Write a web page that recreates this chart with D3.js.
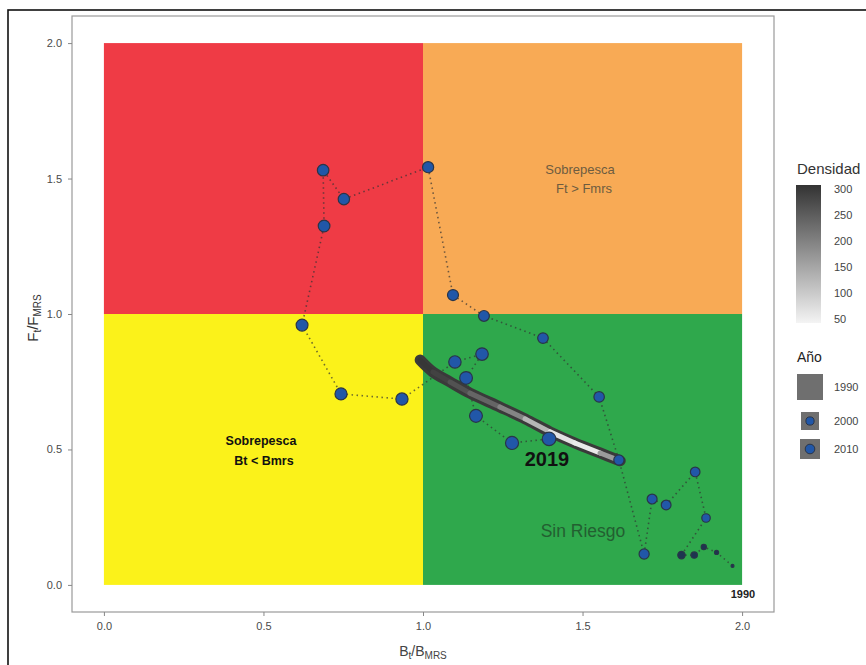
<!DOCTYPE html>
<html><head><meta charset="utf-8">
<script src="https://cdn.jsdelivr.net/npm/d3@7"></script>
<style>
body{margin:0;background:#fff}
svg{display:block}
text{font-family:"Liberation Sans",Arial,Helvetica,sans-serif}
</style>
</head><body>
<svg id="chart" width="866" height="665"></svg>
<script>
// ---- data ----
const years  = [1990,1991,1992,1993,1994,1995,1996,1997,1998,1999,
                2000,2001,2002,2003,2004,2005,2006,2007,2008,2009,
                2010,2011,2012,2013,2014,2015,2016,2019];
const bRatio = [1.97,1.92,1.88,1.85,1.81,1.887,1.853,1.762,1.718,1.693,
                1.614,1.552,1.376,1.191,1.094,1.016,0.752,0.687,0.690,0.621,
                0.743,0.934,1.100,1.185,1.135,1.166,1.279,1.395];
const fRatio = [0.07,0.12,0.14,0.11,0.11,0.247,0.417,0.295,0.317,0.114,
                0.461,0.694,0.911,0.993,1.070,1.542,1.424,1.531,1.325,0.959,
                0.705,0.686,0.823,0.852,0.764,0.624,0.524,0.539];
const bandB    = [0.991,1.031,1.085,1.147,1.241,1.320,1.398,1.476,1.555,1.618];
const bandF    = [0.830,0.786,0.749,0.708,0.657,0.613,0.565,0.524,0.487,0.458];
const bandDens = [300,290,270,250,220,170,90,55,70,260];
const xTicks = [0,0.5,1,1.5,2];
const yTicks = [0,0.5,1,1.5,2];
const xTickLabels = ["0.0","0.5","1.0","1.5","2.0"];
const yTickLabels = ["0.0","0.5","1.0","1.5","2.0"];
const zoneB0 = [0,1,0,1];
const zoneB1 = [1,2,1,2];
const zoneF0 = [1,1,0,0];
const zoneF1 = [2,2,1,1];
const zoneColors = ["#ef3b45","#f8aa55","#fbf21a","#2fa84c"];
const densTicks = [50,100,150,200,250,300];
const yearKeys = [1990,2000,2010];

// ---- setup ----
const svg = d3.select("#chart");
svg.append("rect").attr("x",8).attr("y",10).attr("width",900).attr("height",700)
  .attr("fill","none").attr("stroke","#111").attr("stroke-width",1.6);

const x = d3.scaleLinear().domain([-0.1,2.1]).range([72,774]);
const y = d3.scaleLinear().domain([-0.1,2.1]).range([612,16]);

svg.append("rect").attr("x",x(-0.1)).attr("y",y(2.1))
  .attr("width",x(2.1)-x(-0.1)).attr("height",y(-0.1)-y(2.1))
  .attr("fill","#fff");

// zones
svg.append("g").selectAll("rect").data(zoneColors).join("rect")
  .attr("x",(d,i)=>x(zoneB0[i])).attr("y",(d,i)=>y(zoneF1[i]))
  .attr("width",(d,i)=>x(zoneB1[i])-x(zoneB0[i]))
  .attr("height",(d,i)=>y(zoneF0[i])-y(zoneF1[i]))
  .attr("fill",d=>d);

// zone labels
const lab = svg.append("g");
lab.append("text").attr("x",580).attr("y",174).attr("text-anchor","middle")
  .attr("font-size",13).attr("fill","#6d5c40").text("Sobrepesca");
lab.append("text").attr("x",584).attr("y",193).attr("text-anchor","middle")
  .attr("font-size",13).attr("fill","#6d5c40").text("Ft > Fmrs");
lab.append("text").attr("x",261).attr("y",445).attr("text-anchor","middle")
  .attr("font-size",12.5).attr("font-weight","bold").attr("fill","#111").text("Sobrepesca");
lab.append("text").attr("x",264).attr("y",465).attr("text-anchor","middle")
  .attr("font-size",12.5).attr("font-weight","bold").attr("fill","#111").text("Bt < Bmrs");
lab.append("text").attr("x",583).attr("y",537).attr("text-anchor","middle")
  .attr("font-size",17.5).attr("fill","#235f31").text("Sin Riesgo");

// trajectory path
const pts = years.map((yr,i)=>({yr,b:bRatio[i],f:fRatio[i]}));
svg.append("path").datum(pts)
  .attr("d",d3.line().x(d=>x(d.b)).y(d=>y(d.f)))
  .attr("fill","none").attr("stroke","#333").attr("stroke-width",1.6)
  .attr("stroke-dasharray","1.5,3.5").attr("opacity",0.7);

// density band
const dens = d3.scaleLinear().domain([50,300]).range(["#f4f4f4","#333333"]);
const band = bandB.map((b,i)=>({b,f:bandF[i],d:bandDens[i]}));
svg.append("path").datum(band)
  .attr("d",d3.line().curve(d3.curveCatmullRom).x(d=>x(d.b)).y(d=>y(d.f)))
  .attr("fill","none").attr("stroke","#3a3a3a").attr("stroke-width",11)
  .attr("stroke-linecap","round");
const bg = svg.append("g");
for(let i=0;i<band.length-1;i++){
  const a=band[i], c=band[i+1];
  bg.append("line").attr("x1",x(a.b)).attr("y1",y(a.f)).attr("x2",x(c.b)).attr("y2",y(c.f))
    .attr("stroke",dens((a.d+c.d)/2)).attr("stroke-width",5).attr("stroke-linecap","round");
}

// points
const r = d3.scaleLinear().domain([1990,1996,2019]).range([1.5,4.8,6.8]);
svg.append("g").selectAll("circle").data(pts).join("circle")
  .attr("cx",d=>x(d.b)).attr("cy",d=>y(d.f)).attr("r",d=>r(d.yr))
  .attr("fill",d=>d.yr<1995?"#1d3550":"#2157a8")
  .attr("stroke","#2a3548").attr("stroke-width",1.2);

// year labels
svg.append("text").attr("x",547).attr("y",466)
  .attr("text-anchor","middle").attr("font-size",20).attr("font-weight","bold")
  .attr("fill","#111").text(years[years.length-1]);
svg.append("text").attr("x",743).attr("y",598)
  .attr("text-anchor","middle").attr("font-size",11).attr("font-weight","bold")
  .attr("fill","#222").text(years[0]);

// panel border
svg.append("rect").attr("x",x(-0.1)).attr("y",y(2.1))
  .attr("width",x(2.1)-x(-0.1)).attr("height",y(-0.1)-y(2.1))
  .attr("fill","none").attr("stroke","#9a9a9a").attr("stroke-width",1.2);

// axes
const xa = svg.append("g").attr("transform",`translate(0,${y(-0.1)})`)
  .call(d3.axisBottom(x).tickValues(xTicks).tickFormat((d,i)=>xTickLabels[i]).tickSize(4).tickPadding(6));
const ya = svg.append("g").attr("transform",`translate(${x(-0.1)},0)`)
  .call(d3.axisLeft(y).tickValues(yTicks).tickFormat((d,i)=>yTickLabels[i]).tickSize(4).tickPadding(6));
[xa,ya].forEach(a=>{
  a.select(".domain").remove();
  a.selectAll(".tick line").attr("stroke","#888");
  a.selectAll(".tick text").attr("fill","#4a4a4a").attr("font-size",11)
    .style("font-family","'Liberation Sans',Arial,sans-serif");
});

// axis titles
const xt = svg.append("text").attr("x",x(1)).attr("y",656).attr("text-anchor","middle")
  .attr("font-size",14).attr("fill","#444");
xt.append("tspan").text("B");
xt.append("tspan").attr("font-size",10).attr("dy",3).text("t");
xt.append("tspan").attr("dy",-3).text("/B");
xt.append("tspan").attr("font-size",10).attr("dy",3).text("MRS");

const yt = svg.append("text").attr("transform",`translate(38,${y(1)+4}) rotate(-90)`)
  .attr("text-anchor","middle").attr("font-size",15).attr("fill","#333");
yt.append("tspan").text("F");
yt.append("tspan").attr("font-size",10).attr("dy",3).text("t");
yt.append("tspan").attr("dy",-3).text("/F");
yt.append("tspan").attr("font-size",10).attr("dy",3).text("MRS");

// legend: Densidad
const lg = svg.append("g");
lg.append("text").attr("x",797).attr("y",174).attr("font-size",15).attr("fill","#333").text("Densidad");
const defs = svg.append("defs");
const grad = defs.append("linearGradient").attr("id","dg").attr("x1",0).attr("y1",1).attr("x2",0).attr("y2",0);
grad.selectAll("stop").data(densTicks).join("stop")
  .attr("offset",(d,i)=>i/(densTicks.length-1)).attr("stop-color",d=>dens(d));
const ly = d3.scaleLinear().domain([50,300]).range([319,189]);
lg.append("rect").attr("x",796).attr("y",ly(300)-4).attr("width",25).attr("height",ly(50)-ly(300)+8)
  .attr("fill","url(#dg)");
lg.selectAll(".dt").data(densTicks).join("text").attr("class","dt")
  .attr("x",834).attr("y",d=>ly(d)+4).attr("font-size",11).attr("fill","#444").text(d=>d);

// legend: Año
lg.append("text").attr("x",797).attr("y",362).attr("font-size",14).attr("fill","#222").text("Año");
const keyY = d3.scaleOrdinal().domain(yearKeys).range([387,421,449]);
const keyS = d3.scaleOrdinal().domain(yearKeys).range([26,18,20]);
lg.selectAll(".kr").data(yearKeys).join("rect").attr("class","kr")
  .attr("x",d=>810-keyS(d)/2).attr("y",d=>keyY(d)-keyS(d)/2)
  .attr("width",d=>keyS(d)).attr("height",d=>keyS(d)).attr("fill","#6f6f6f");
lg.selectAll(".kc").data(yearKeys.slice(1)).join("circle").attr("class","kc")
  .attr("cx",810).attr("cy",d=>keyY(d)).attr("r",d=>r(d)*0.8)
  .attr("fill","#2157a8").attr("stroke","#2a3548").attr("stroke-width",1);
lg.selectAll(".kt").data(yearKeys).join("text").attr("class","kt")
  .attr("x",834).attr("y",d=>keyY(d)+4).attr("font-size",11).attr("fill","#444").text(d=>d);
</script>
</body></html>
